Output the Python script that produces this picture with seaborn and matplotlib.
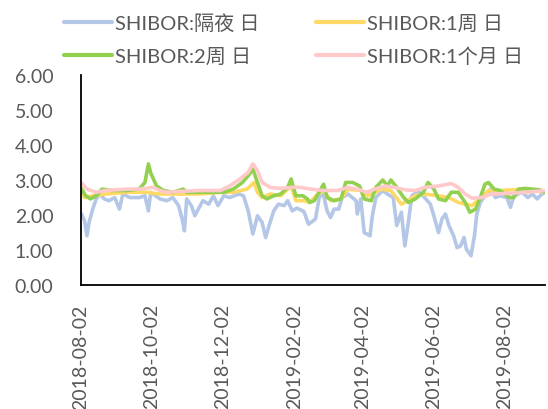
import pandas as pd
import matplotlib.pyplot as plt
import matplotlib.dates as mdates
import seaborn as sns

# SHIBOR overnight
on_dates = ["2018-08-02", "2018-08-05", "2018-08-07", "2018-08-09", "2018-08-12", "2018-08-15",
            "2018-08-18", "2018-08-22", "2018-08-26", "2018-08-31", "2018-09-04", "2018-09-07",
            "2018-09-13", "2018-09-21", "2018-09-26", "2018-09-29", "2018-10-01", "2018-10-09",
            "2018-10-15", "2018-10-20", "2018-10-25", "2018-10-28", "2018-10-30", "2018-11-01",
            "2018-11-05", "2018-11-08", "2018-11-11", "2018-11-15", "2018-11-20", "2018-11-24",
            "2018-11-28", "2018-12-03", "2018-12-08", "2018-12-16", "2018-12-20", "2018-12-24",
            "2018-12-28", "2019-01-01", "2019-01-05", "2019-01-08", "2019-01-11", "2019-01-15",
            "2019-01-19", "2019-01-24", "2019-01-27", "2019-01-31", "2019-02-04", "2019-02-10",
            "2019-02-14", "2019-02-20", "2019-02-23", "2019-02-26", "2019-03-02", "2019-03-05",
            "2019-03-08", "2019-03-12", "2019-03-15", "2019-03-20", "2019-03-27", "2019-03-28",
            "2019-03-31", "2019-04-03", "2019-04-08", "2019-04-10", "2019-04-13", "2019-04-19",
            "2019-04-23", "2019-04-28", "2019-05-01", "2019-05-05", "2019-05-08", "2019-05-11",
            "2019-05-14", "2019-05-18", "2019-05-21", "2019-05-25", "2019-05-30", "2019-06-02",
            "2019-06-06", "2019-06-09", "2019-06-12", "2019-06-15", "2019-06-19", "2019-06-22",
            "2019-06-25", "2019-06-28", "2019-06-30", "2019-07-04", "2019-07-07", "2019-07-09",
            "2019-07-12", "2019-07-16", "2019-07-21", "2019-07-25", "2019-07-29", "2019-08-04",
            "2019-08-07", "2019-08-10", "2019-08-17", "2019-08-22", "2019-08-26", "2019-08-30",
            "2019-09-03", "2019-09-06"]
on_vals = [2.05, 1.84, 1.41, 1.81, 2.17, 2.46,
           2.60, 2.46, 2.41, 2.50, 2.17, 2.60,
           2.50, 2.50, 2.55, 2.12, 2.65, 2.46,
           2.41, 2.50, 2.27, 1.89, 1.55, 2.46,
           2.27, 1.98, 2.17, 2.41, 2.31, 2.55,
           2.27, 2.55, 2.50, 2.60, 2.55, 2.12,
           1.46, 1.98, 1.79, 1.36, 1.70, 2.12,
           2.31, 2.27, 2.41, 2.12, 2.20, 2.10,
           1.74, 1.89, 2.46, 2.70, 2.12, 1.93,
           2.17, 2.17, 2.50, 2.60, 2.41, 2.03,
           2.46, 1.50, 1.41, 1.98, 2.50, 2.70,
           2.60, 2.50, 1.70, 2.08, 1.12, 1.79,
           2.55, 2.65, 2.65, 2.50, 2.31, 1.98,
           1.50, 1.89, 2.03, 1.70, 1.41, 1.07,
           1.12, 1.36, 1.03, 0.84, 1.41, 2.03,
           2.36, 2.55, 2.74, 2.50, 2.55, 2.50,
           2.22, 2.55, 2.65, 2.50, 2.60, 2.46,
           2.60, 2.65]

# SHIBOR 1 week
w1_dates = ["2018-08-02", "2018-08-05", "2018-08-12", "2018-08-23", "2018-09-10", "2018-09-27",
            "2018-10-09", "2018-10-26", "2018-11-12", "2018-11-30", "2018-12-11", "2018-12-23",
            "2018-12-29", "2019-01-01", "2019-01-05", "2019-01-12", "2019-01-21", "2019-01-30",
            "2019-02-03", "2019-02-10", "2019-02-15", "2019-02-22", "2019-02-27", "2019-03-05",
            "2019-03-14", "2019-03-20", "2019-03-31", "2019-04-06", "2019-04-18", "2019-04-26",
            "2019-05-05", "2019-05-17", "2019-05-25", "2019-06-06", "2019-06-15", "2019-06-23",
            "2019-06-29", "2019-07-05", "2019-07-11", "2019-07-19", "2019-07-28", "2019-08-20",
            "2019-09-06"]
w1_vals = [2.65, 2.50, 2.55, 2.60, 2.65, 2.65,
           2.60, 2.60, 2.60, 2.65, 2.65, 2.74,
           2.93, 2.65, 2.50, 2.60, 2.55, 2.83,
           2.41, 2.41, 2.36, 2.60, 2.70, 2.41,
           2.46, 2.74, 2.70, 2.55, 2.74, 2.70,
           2.31, 2.55, 2.60, 2.55, 2.50, 2.36,
           2.31, 2.27, 2.46, 2.70, 2.70, 2.74,
           2.65]

# SHIBOR 2 weeks
w2_dates = ["2018-08-02", "2018-08-06", "2018-08-10", "2018-08-15", "2018-08-20", "2018-08-29",
            "2018-09-10", "2018-09-21", "2018-09-26", "2018-09-29", "2018-10-01", "2018-10-06",
            "2018-10-12", "2018-10-20", "2018-10-29", "2018-11-01", "2018-11-21", "2018-12-03",
            "2018-12-11", "2018-12-19", "2018-12-24", "2018-12-28", "2019-01-01", "2019-01-05",
            "2019-01-09", "2019-01-15", "2019-01-21", "2019-01-27", "2019-01-30", "2019-02-03",
            "2019-02-09", "2019-02-13", "2019-02-15", "2019-02-19", "2019-02-23", "2019-02-27",
            "2019-03-02", "2019-03-08", "2019-03-14", "2019-03-18", "2019-03-24", "2019-03-30",
            "2019-04-03", "2019-04-09", "2019-04-13", "2019-04-19", "2019-04-23", "2019-04-26",
            "2019-05-01", "2019-05-07", "2019-05-11", "2019-05-17", "2019-05-24", "2019-05-28",
            "2019-06-02", "2019-06-06", "2019-06-12", "2019-06-17", "2019-06-23", "2019-06-29",
            "2019-07-03", "2019-07-08", "2019-07-12", "2019-07-16", "2019-07-19", "2019-07-24",
            "2019-07-29", "2019-08-06", "2019-08-10", "2019-08-14", "2019-08-20", "2019-08-26",
            "2019-09-01", "2019-09-06"]
w2_vals = [2.76, 2.55, 2.46, 2.55, 2.74, 2.70,
           2.70, 2.74, 2.93, 3.46, 3.20, 2.83,
           2.70, 2.65, 2.74, 2.65, 2.65, 2.65,
           2.74, 2.93, 3.12, 3.31, 2.93, 2.55,
           2.46, 2.55, 2.60, 2.79, 3.03, 2.55,
           2.55, 2.46, 2.36, 2.41, 2.65, 2.88,
           2.50, 2.41, 2.46, 2.93, 2.93, 2.83,
           2.46, 2.41, 2.79, 3.00, 2.83, 3.00,
           2.79, 2.50, 2.36, 2.46, 2.65, 2.93,
           2.74, 2.46, 2.41, 2.65, 2.65, 2.36,
           2.08, 2.17, 2.50, 2.88, 2.93, 2.74,
           2.70, 2.50, 2.50, 2.74, 2.76, 2.74,
           2.72, 2.65]

# SHIBOR 1 month
m1_dates = ["2018-08-02", "2018-08-07", "2018-08-15", "2018-08-23", "2018-09-10", "2018-09-21",
            "2018-10-03", "2018-10-09", "2018-10-15", "2018-10-23", "2018-11-12", "2018-11-30",
            "2018-12-08", "2018-12-17", "2018-12-24", "2018-12-28", "2019-01-01", "2019-01-05",
            "2019-01-12", "2019-01-21", "2019-02-01", "2019-02-07", "2019-02-16", "2019-02-27",
            "2019-03-11", "2019-03-20", "2019-03-28", "2019-04-05", "2019-04-12", "2019-04-21",
            "2019-04-29", "2019-05-08", "2019-05-17", "2019-05-25", "2019-06-06", "2019-06-17",
            "2019-06-23", "2019-06-29", "2019-07-05", "2019-07-13", "2019-07-22", "2019-08-06",
            "2019-08-20", "2019-09-06"]
m1_vals = [2.93, 2.74, 2.65, 2.70, 2.74, 2.74,
           2.79, 2.70, 2.65, 2.67, 2.70, 2.70,
           2.83, 3.03, 3.22, 3.46, 3.27, 2.93,
           2.79, 2.76, 2.79, 2.79, 2.74, 2.70,
           2.70, 2.79, 2.74, 2.65, 2.74, 2.83,
           2.79, 2.72, 2.70, 2.79, 2.83, 2.90,
           2.79, 2.60, 2.48, 2.50, 2.60, 2.62,
           2.65, 2.70]

labels = ["SHIBOR:隔夜 日", "SHIBOR:1周 日", "SHIBOR:2周 日", "SHIBOR:1个月 日"]
colors = ["#B4C7E7", "#FFD966", "#92D050", "#FFC9C9"]
tick_dates = ["2018-08-02", "2018-10-02", "2018-12-02", "2019-02-02",
              "2019-04-02", "2019-06-02", "2019-08-02"]


def main():
    sns.set_style("white")
    plt.rcParams["font.family"] = ["Lato", "Noto Sans CJK SC", "DejaVu Sans"]
    text_color = "#595959"

    frames = []
    for lab, d, v in zip(labels,
                         [on_dates, w1_dates, w2_dates, m1_dates],
                         [on_vals, w1_vals, w2_vals, m1_vals]):
        frames.append(pd.DataFrame({"date": pd.to_datetime(d), "rate": v, "series": lab}))
    df = pd.concat(frames, ignore_index=True)

    fig = plt.figure(figsize=(5.48, 4.10), dpi=100)
    ax = fig.add_axes([0.148, 0.302, 0.847, 0.513])

    sns.lineplot(data=df, x="date", y="rate", hue="series", hue_order=labels,
                 palette=colors, linewidth=2.6, ax=ax, legend=True)

    ax.set_xlim(pd.Timestamp("2018-08-02"), pd.Timestamp("2019-09-06"))
    ax.set_ylim(0, 6)
    ax.set_yticks(range(0, 7))
    ax.yaxis.set_major_formatter(plt.FormatStrFormatter("%.2f"))
    ax.set_xticks(pd.to_datetime(tick_dates))
    ax.xaxis.set_major_formatter(mdates.DateFormatter("%Y-%m-%d"))
    ax.set_xlabel("")
    ax.set_ylabel("")

    for s in ["top", "right"]:
        ax.spines[s].set_visible(False)
    for s in ["left", "bottom"]:
        ax.spines[s].set_color("black")
        ax.spines[s].set_linewidth(1.3)
    ax.tick_params(axis="both", direction="in", length=5, width=1.3, color="black",
                   labelsize=14, labelcolor=text_color)
    ax.tick_params(axis="y", pad=20)
    ax.tick_params(axis="x", labelrotation=90, pad=13)

    handles, labs = ax.get_legend_handles_labels()
    ax.get_legend().remove()
    order = [0, 2, 1, 3]
    leg = fig.legend([handles[i] for i in order], [labs[i] for i in order],
                     ncol=2, frameon=False, loc="upper left",
                     bbox_to_anchor=(0.116, 0.966), fontsize=14.5,
                     handlelength=2.4, handletextpad=0.15, columnspacing=2.8,
                     labelspacing=0.75, borderpad=0, borderaxespad=0)
    for t in leg.get_texts():
        t.set_color(text_color)
    for h in leg.get_lines():
        h.set_linewidth(3)

    fig.savefig("out.png", dpi=100)


if __name__ == "__main__":
    main()
